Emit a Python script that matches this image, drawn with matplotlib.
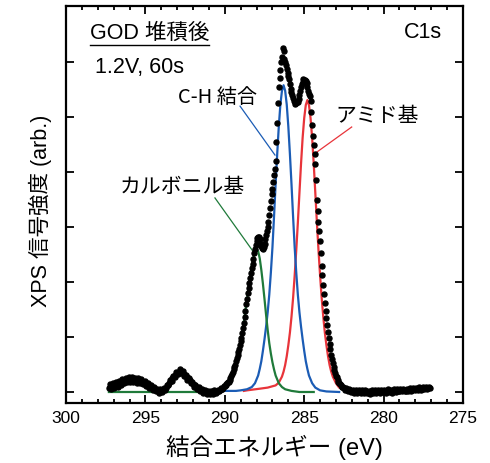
import numpy as np
import matplotlib
matplotlib.use('Agg')
import matplotlib.pyplot as plt
from matplotlib.lines import Line2D

plt.rcParams['font.family'] = ['Liberation Sans', 'Noto Sans CJK JP', 'DejaVu Sans']

# ===== 測定データ (C1s, 0.1 eV step) =====
E_START = 297.3
E_STEP = 0.1
intensity = [
    0.08, 0.10, 0.11, 0.12, 0.12, 0.14, 0.15, 0.16, 0.17, 0.19,
    0.21, 0.22, 0.22, 0.23, 0.22, 0.23, 0.22, 0.22, 0.21, 0.21,
    0.20, 0.19, 0.18, 0.16, 0.14, 0.12, 0.10, 0.08, 0.07, 0.05,
    0.03, 0.02, 0.02, 0.02, 0.03, 0.05, 0.08, 0.12, 0.16, 0.20,
    0.25, 0.29, 0.32, 0.35, 0.37, 0.38, 0.36, 0.33, 0.30, 0.27,
    0.24, 0.21, 0.18, 0.15, 0.12, 0.09, 0.07, 0.05, 0.03, 0.02,
    0.01, 0.00, -0.01, -0.01, -0.01, -0.01, 0.00, 0.00, 0.01, 0.02,
    0.04, 0.06, 0.08, 0.11, 0.14, 0.18, 0.22, 0.29, 0.37, 0.46,
    0.56, 0.67, 0.79, 0.92, 1.08, 1.26, 1.48, 1.70, 1.90, 2.08,
    2.25, 2.42, 2.60, 2.74, 2.82, 2.78, 2.66, 2.60, 2.70, 2.85,
    3.00, 3.22, 3.48, 3.70, 3.95, 4.20, 4.90, 5.55, 5.85, 6.10,
    6.20, 6.00, 5.88, 5.75, 5.60, 5.45, 5.35, 5.28, 5.25, 5.28,
    5.40, 5.55, 5.64, 5.68, 5.66, 5.55, 5.42, 5.30, 4.85, 4.50,
    4.15, 3.50, 3.10, 2.75, 2.30, 1.95, 1.62, 1.35, 1.10, 0.88,
    0.68, 0.52, 0.40, 0.30, 0.22, 0.16, 0.12, 0.09, 0.07, 0.05,
    0.04, 0.03, 0.03, 0.02, 0.02, 0.01, 0.01, 0.02, 0.01, 0.00,
    0.01, 0.00, 0.01, 0.00, -0.01, 0.00, 0.01, 0.00, 0.01, 0.02,
    0.01, 0.00, 0.01, 0.02, 0.01, 0.02, 0.03, 0.02, 0.01, 0.02,
    0.03, 0.02, 0.03, 0.02, 0.03, 0.04, 0.03, 0.02, 0.03, 0.04,
    0.05, 0.04, 0.05, 0.06, 0.05, 0.06, 0.07, 0.06, 0.07, 0.08,
    0.07, 0.08, 0.07,
]
# 中間点 (297.25 eV から 0.1 eV 毎)
E_START_MID = 297.25
intensity_mid = [
    0.14, 0.06, 0.16, 0.08, 0.18, 0.10, 0.20, 0.12, 0.23, 0.16,
    0.26, 0.18, 0.27, 0.19, 0.27, 0.18, 0.26, 0.17, 0.25, 0.16,
    0.23, 0.15, 0.20, 0.11, 0.16, 0.07, 0.12, 0.04, 0.09, 0.01,
    0.05, -0.01, 0.05, 0.00, 0.08, 0.04, 0.13, 0.12, 0.21, 0.20,
    0.30, 0.28, 0.37, 0.33, 0.41, 0.34, 0.38, 0.29, 0.31, 0.22,
    0.25, 0.16, 0.19, 0.10, 0.13, 0.05, 0.09, 0.01, 0.05, -0.01,
    0.03, -0.03, 0.02, -0.03, 0.02, -0.03, 0.03, -0.01, 0.04, 0.02,
    0.07, 0.06, 0.11,
    0.12, 0.17, 0.19, 0.26, 0.32, 0.42, 0.50, 0.62, 0.72, 0.86,
    0.99, 1.17, 1.36, 1.60, 1.80, 1.99, 2.17, 2.33, 2.52, 2.68,
    2.80, 2.82, 2.70, 2.62, 2.63, 2.78, 2.92, 3.10, 3.35, 3.60,
    3.82, 4.05, 4.55, 5.25, 5.72, 6.00, 6.25, 6.05, 5.95, 5.80,
    5.70, 5.52, 5.40, 5.30, 5.24, 5.27, 5.33, 5.48, 5.60, 5.70,
    5.68, 5.62, 5.48, 5.38, 5.10, 4.65, 4.32, 3.85, 3.30, 2.92,
    2.52, 2.12, 1.78, 1.48, 1.22, 0.99, 0.78, 0.60, 0.46, 0.35,
    0.27, 0.19, 0.15, 0.09, 0.10, 0.04,
    0.07, 0.01, 0.05, 0.00, 0.04, -0.01, 0.03, -0.01, 0.04, -0.02,
    0.03, -0.02, 0.03, -0.02, 0.02, -0.03, 0.03, -0.02, 0.03, -0.01,
    0.04, -0.01, 0.03, 0.00, 0.04, -0.01, 0.05, 0.00, 0.04, -0.01,
    0.05, 0.00, 0.05, 0.01, 0.05, 0.01, 0.06, 0.01, 0.06, 0.02,
    0.07, 0.02, 0.08, 0.03, 0.08, 0.04, 0.09, 0.04, 0.09, 0.05,
    0.10, 0.05, 0.09,
]
energy = E_START - E_STEP * np.arange(len(intensity))
energy_mid = E_START_MID - E_STEP * np.arange(len(intensity_mid))

# ===== フィッティング成分 =====
# カルボニル基 (緑)
green_x = [297.3, 291.0, 290.4, 290.0, 289.8, 289.6, 289.4, 289.2, 289.0, 288.9,
           288.8, 288.7, 288.6, 288.5, 288.4, 288.3, 288.2, 288.1, 288.0, 287.9,
           287.8, 287.7, 287.6, 287.5, 287.4, 287.3, 287.2, 287.1, 287.0, 286.9,
           286.8, 286.6, 286.4, 286.2, 285.8, 285.3, 284.4]
green_y = [0.0, 0.0, 0.02, 0.07, 0.13, 0.23, 0.38, 0.60, 0.89, 1.07,
           1.27, 1.48, 1.70, 1.92, 2.12, 2.30, 2.45, 2.56, 2.60, 2.56,
           2.43, 2.22, 1.97, 1.69, 1.40, 1.13, 0.89, 0.70, 0.54, 0.41,
           0.30, 0.16, 0.09, 0.05, 0.02, 0.0, 0.0]

# C-H 結合 (青)
blue_x = [290.0, 289.6, 289.3, 289.0, 288.6, 288.3, 288.1, 287.9, 287.8, 287.7,
          287.6, 287.5, 287.4, 287.3, 287.2, 287.1, 287.0, 286.9, 286.8, 286.7,
          286.6, 286.5, 286.4, 286.3, 286.2, 286.1, 286.0, 285.9, 285.8, 285.7,
          285.6, 285.5, 285.4, 285.3, 285.2, 285.1, 285.0, 284.9, 284.8, 284.7,
          284.5, 284.3, 284.0, 283.6, 282.8]
blue_y = [0.02, 0.02, 0.02, 0.03, 0.05, 0.09, 0.16, 0.30, 0.42, 0.56,
          0.75, 0.96, 1.19, 1.45, 1.77, 2.17, 2.63, 3.19, 3.78, 4.33,
          4.83, 5.23, 5.48, 5.58, 5.48, 5.23, 4.83, 4.33, 3.78, 3.19,
          2.63, 2.17, 1.77, 1.45, 1.19, 0.96, 0.75, 0.56, 0.42, 0.30,
          0.16, 0.08, 0.03, 0.01, 0.0]

# アミド基 (赤)
red_x = [288.8, 288.6, 287.8, 287.3, 286.8, 286.6, 286.4, 286.3, 286.2, 286.1,
         286.0, 285.9, 285.8, 285.7, 285.6, 285.5, 285.4, 285.3, 285.2, 285.1,
         285.0, 284.9, 284.8, 284.7, 284.6, 284.5, 284.4, 284.3, 284.2, 284.1,
         284.0, 283.9, 283.8, 283.7, 283.6, 283.5, 283.4, 283.3, 283.2, 283.0,
         282.8, 282.3]
red_y = [0.02, 0.03, 0.06, 0.08, 0.12, 0.17, 0.28, 0.37, 0.49, 0.65,
         0.85, 1.08, 1.37, 1.71, 2.12, 2.58, 3.08, 3.62, 4.15, 4.62,
         4.98, 5.22, 5.31, 5.22, 4.98, 4.62, 4.15, 3.62, 3.08, 2.58,
         2.12, 1.71, 1.37, 1.08, 0.85, 0.65, 0.49, 0.37, 0.28, 0.16,
         0.08, 0.04]

C_GREEN = '#1f7a3a'
C_BLUE = '#1b5cb5'
C_RED = '#e8343a'

# ===== 描画 =====
W, H = 490, 463
fig = plt.figure(figsize=(W / 100, H / 100), dpi=100)
ax = fig.add_axes([0.1347, 0.1296, 0.8102, 0.8585])

ax.plot(red_x, red_y, color=C_RED, lw=1.6, zorder=2.0)
ax.plot(blue_x, blue_y, color=C_BLUE, lw=1.6, zorder=2.1)
ax.plot(green_x, green_y, color=C_GREEN, lw=1.6, zorder=2.2)
ax.plot(energy, intensity, 'o', color='black', ms=3.6, mec='black', zorder=3)
ax.plot(energy_mid, intensity_mid, 'o', color='black', ms=3.6, mec='black', zorder=3)

# 引き出し線
ax.plot([289.04, 286.84], [5.2, 4.31], color=C_BLUE, lw=0.9, zorder=2.5)
ax.plot([282.01, 284.32], [4.82, 4.34], color=C_RED, lw=0.9, zorder=2.5)
ax.plot([290.62, 288.2], [3.53, 2.55], color=C_GREEN, lw=0.9, zorder=2.5)

ax.text(290.43, 5.35, 'C-H 結合', family=['Noto Sans CJK JP'], fontsize=14.5,
        ha='center', va='center')
ax.text(280.38, 5.02, 'アミド基', family=['Noto Sans CJK JP'], fontsize=15,
        ha='center', va='center')
ax.text(292.66, 3.73, 'カルボニル基', family=['Noto Sans CJK JP'], fontsize=15,
        ha='center', va='center')
ax.text(298.17, 5.9, '1.2V, 60s', fontsize=15.5, ha='left', va='center')
t_god = ax.text(298.49, 6.53, 'GOD 堆積後', fontsize=15.5, ha='left', va='center')
ax.text(276.34, 6.54, 'C1s', fontsize=15.5, ha='right', va='center')

ax.set_xlim(300, 275)
ax.set_ylim(-0.2, 7.03)
ax.set_xticks([300, 295, 290, 285, 280, 275])
ax.set_xticks(np.arange(275, 301, 1), minor=True)
ax.set_yticks(range(0, 7))
ax.set_yticklabels([])
ax.tick_params(which='both', direction='in', top=True, right=True, width=1.3)
ax.tick_params(which='major', length=5.5, labelsize=12.5, pad=6)
ax.tick_params(which='minor', length=3)
for sp in ax.spines.values():
    sp.set_linewidth(1.6)

# 軸ラベル
fig.text(274 / W, 1 - 447 / H, '結合エネルギー (eV)', fontsize=17,
         ha='center', va='center')
fig.text(40 / W, 1 - 211 / H, 'XPS 信号強度 (arb.)', fontsize=15.5,
         rotation=90, ha='center', va='center')

# 下線
fig.canvas.draw()
bb = t_god.get_window_extent().transformed(fig.transFigure.inverted())
fig.add_artist(Line2D([bb.x0, bb.x1], [bb.y0 - 0.004, bb.y0 - 0.004],
                      color='black', lw=1.0, transform=fig.transFigure))

fig.savefig('out.png', dpi=100)
